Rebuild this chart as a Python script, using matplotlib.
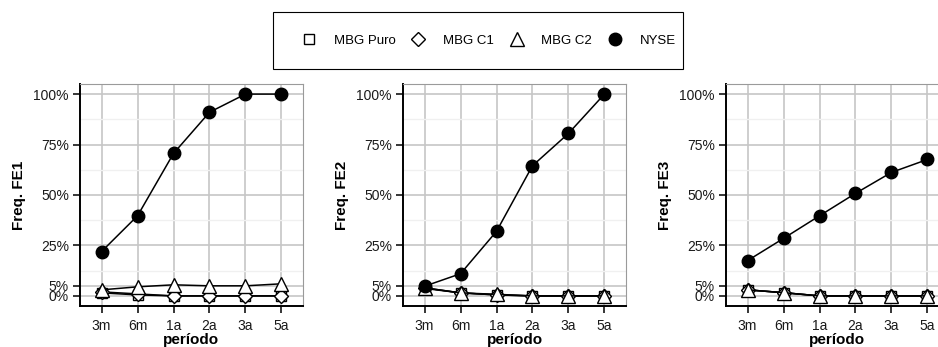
import matplotlib
matplotlib.use("Agg")
import matplotlib.pyplot as plt
from matplotlib.lines import Line2D
from matplotlib.patches import Rectangle
from matplotlib.ticker import FixedLocator, FuncFormatter

plt.rcParams['font.family'] = ['Liberation Sans', 'DejaVu Sans']

periodos = ["3m", "6m", "1a", "2a", "3a", "5a"]
series_names = ["MBG Puro", "MBG C1", "MBG C2", "NYSE"]

# frequencies in percent, one list per series and panel
fe1_puro = [1.5, 0.5, 0, 0, 0, 0]
fe1_c1 = [2, 1, 0, 0, 0, 0]
fe1_c2 = [3, 4.5, 5.5, 5, 5, 6]
fe1_nyse = [22, 39.7, 70.6, 91, 100, 100]

fe2_puro = [4, 1.5, 0.5, 0, 0, 0]
fe2_c1 = [4, 1.5, 0.5, 0, 0, 0]
fe2_c2 = [3.7, 1.5, 0.8, 0, 0, 0]
fe2_nyse = [4.8, 11, 32, 64.5, 80.5, 100]

fe3_puro = [3, 1.6, 0, 0, 0, 0]
fe3_c1 = [3, 1.6, 0, 0, 0, 0]
fe3_c2 = [3, 1.6, 0, 0, 0, 0]
fe3_nyse = [17.5, 28.5, 39.7, 50.8, 61.2, 67.6]

panels = [
    ("Freq. FE1", [fe1_puro, fe1_c1, fe1_c2, fe1_nyse]),
    ("Freq. FE2", [fe2_puro, fe2_c1, fe2_c2, fe2_nyse]),
    ("Freq. FE3", [fe3_puro, fe3_c1, fe3_c2, fe3_nyse]),
]

y_ticks = [0, 5, 25, 50, 75, 100]
styles = [
    dict(marker="s", markersize=6.5, markerfacecolor="white"),
    dict(marker="D", markersize=7, markerfacecolor="white"),
    dict(marker="^", markersize=10, markerfacecolor="white"),
    dict(marker="o", markersize=9, markerfacecolor="black"),
]

W, H = 938, 347
fig = plt.figure(figsize=(W / 100, H / 100), dpi=100)

lefts = [80, 403, 726]
for left, (ylabel, data) in zip(lefts, panels):
    ax = fig.add_axes([left / W, 1 - 306 / H, 223 / W, 222 / H])
    x = list(range(len(periodos)))
    for k, (vals, st) in enumerate(zip(data, styles)):
        ax.plot(x, vals, color="black", lw=1.1, markeredgecolor="black",
                markeredgewidth=1.0, zorder=3 + k, clip_on=False, **st)
    ax.set_xlim(-0.6, len(periodos) - 0.4)
    ax.set_ylim(-5, 105)
    ax.set_xticks(x)
    ax.set_xticklabels(periodos)
    ax.yaxis.set_major_locator(FixedLocator(y_ticks))
    ax.yaxis.set_minor_locator(FixedLocator([12.5, 37.5, 62.5, 87.5]))
    ax.yaxis.set_major_formatter(FuncFormatter(lambda v, p: f"{v:.0f}%"))
    ax.grid(True, which="major", color="#c6c6c6", lw=1.2, zorder=0)
    ax.grid(True, which="minor", axis="y", color="#f0f0f0", lw=1.0, zorder=0)
    ax.set_axisbelow(True)
    for side in ["top", "right"]:
        ax.spines[side].set_color("#9a9a9a")
        ax.spines[side].set_linewidth(0.8)
    for side in ["left", "bottom"]:
        ax.spines[side].set_color("black")
        ax.spines[side].set_linewidth(1.4)
    ax.tick_params(which="major", length=5, width=1.1, color="black",
                   labelsize=10, labelcolor="#1a1a1a")
    ax.tick_params(axis="x", pad=4.5)
    ax.tick_params(axis="y", pad=3)
    ax.tick_params(which="minor", length=0)
    ax.set_ylabel(ylabel, fontsize=11, fontweight="bold", labelpad=5)
    ax.set_xlabel("período", fontsize=11, fontweight="bold", labelpad=0)

# legend: boxed row of markers above the panels
fig.add_artist(Rectangle((273 / W, 1 - 69 / H), 410 / W, 57 / H,
                         transform=fig.transFigure, fill=False,
                         edgecolor="black", lw=0.8))
handles = [Line2D([], [], linestyle="none", color="black", markeredgecolor="black",
                  markeredgewidth=1.0, **st) for st in styles]
fig.legend(handles, series_names, loc="center left", bbox_to_anchor=(296 / W, 1 - 41 / H),
           ncol=4, frameon=False, fontsize=9.5, borderpad=0, borderaxespad=0,
           handletextpad=0.85, columnspacing=0.75)

fig.savefig("out.png", dpi=100)
